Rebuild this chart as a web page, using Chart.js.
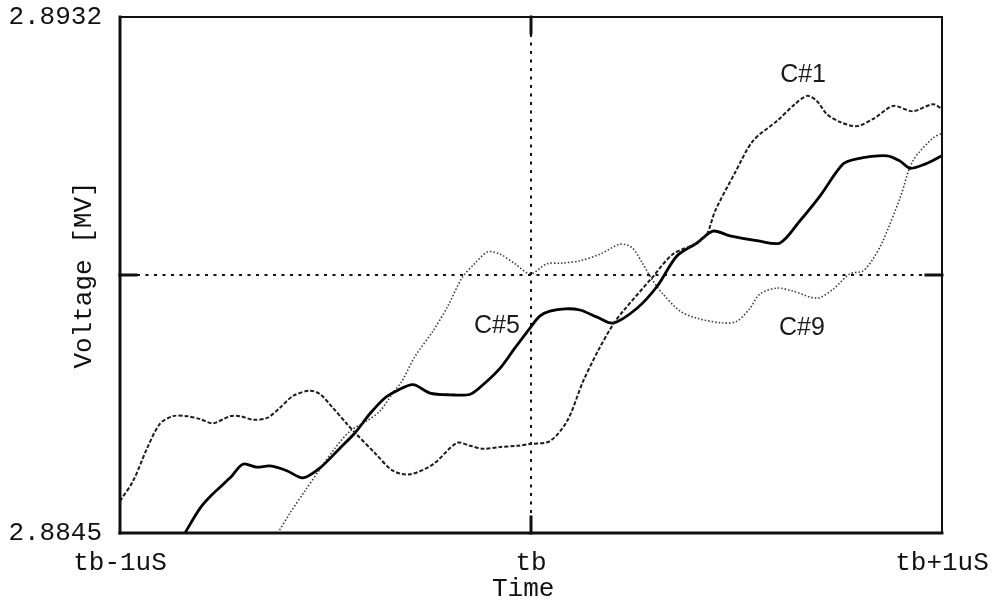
<!DOCTYPE html>
<html>
<head>
<meta charset="utf-8">
<script src="https://cdn.jsdelivr.net/npm/chart.js@4.4.1/dist/chart.umd.min.js"></script>
<style>
  html, body { margin: 0; padding: 0; background: #fff; }
  canvas { display: block; }
</style>
</head>
<body>
<canvas id="chart" width="1005" height="603"></canvas>
<script>
// Axis ticks (time in ns relative to tb, voltage in MV)
const xTickValues = [-1000, 0, 1000];
const xTickLabels = ['tb-1uS', 'tb', 'tb+1uS'];
const yTickValues = [2.8845, 2.8932];
const yTickLabels = ['2.8845', '2.8932'];

// Cavity C#1
const c1Time = [-1000, -968, -934, -903, -871, -837, -805, -774, -732, -708, -676, -642, -611, -579, -538, -513,
  -482, -448, -428, -380, -336, -294, -238, -180, -148, -117, -75, -34, -2, 46, 88, 127, 163, 200, 224, 294, 345,
  404, 428, 448, 496, 540, 599, 642, 672, 696, 720, 752, 793, 837, 881, 929, 978, 1000];
const c1Volt = [2.88504, 2.88538, 2.88593, 2.88634, 2.88647, 2.88647, 2.88642, 2.88635, 2.88647, 2.88647, 2.88641,
  2.88644, 2.88661, 2.88681, 2.88690, 2.88684, 2.88661, 2.88634, 2.88619, 2.88585, 2.88555, 2.88549, 2.88566,
  2.88602, 2.88597, 2.88592, 2.88595, 2.88597, 2.88600, 2.88605, 2.88639, 2.88706, 2.88757, 2.88802, 2.88824,
  2.88880, 2.88920, 2.88939, 2.88954, 2.88993, 2.89057, 2.89111, 2.89145, 2.89173, 2.89187, 2.89178, 2.89156,
  2.89143, 2.89136, 2.89150, 2.89170, 2.89161, 2.89173, 2.89165];

// Cavity C#5
const c5Time = [-842, -805, -774, -732, -701, -667, -635, -594, -555, -513, -465, -428, -392, -355, -326, -287,
  -246, -197, -148, -112, -75, -39, -2, 22, 46, 83, 119, 161, 200, 258, 307, 355, 404, 443, 484, 557, 606, 654,
  703, 759, 793, 866, 898, 922, 959, 1000];
const c5Volt = [2.88450, 2.88492, 2.88516, 2.88543, 2.88566, 2.88561, 2.88563, 2.88555, 2.88543, 2.88560, 2.88593,
  2.88619, 2.88651, 2.88678, 2.88690, 2.88700, 2.88686, 2.88683, 2.88684, 2.88703, 2.88728, 2.88762, 2.88796,
  2.88816, 2.88824, 2.88828, 2.88826, 2.88814, 2.88804, 2.88829, 2.88866, 2.88917, 2.88939, 2.88959, 2.88951,
  2.88942, 2.88939, 2.88976, 2.89018, 2.89072, 2.89081, 2.89086, 2.89077, 2.89065, 2.89072, 2.89086];

// Cavity C#9
const c9Time = [-616, -586, -550, -513, -477, -440, -399, -367, -336, -314, -282, -238, -202, -168, -136, -105,
  -75, -39, -2, 39, 75, 119, 168, 217, 246, 272, 294, 321, 363, 404, 467, 501, 533, 557, 599, 637, 696, 735, 776,
  808, 832, 856, 898, 929, 978, 1000];
const c9Volt = [2.88450, 2.88484, 2.88521, 2.88558, 2.88593, 2.88622, 2.88639, 2.88656, 2.88686, 2.88706, 2.88748,
  2.88791, 2.88833, 2.88880, 2.88905, 2.88924, 2.88920, 2.88904, 2.88887, 2.88904, 2.88905, 2.88909, 2.88920,
  2.88937, 2.88931, 2.88904, 2.88878, 2.88853, 2.88824, 2.88812, 2.88804, 2.88807, 2.88829, 2.88853, 2.88863,
  2.88858, 2.88846, 2.88861, 2.88887, 2.88892, 2.88912, 2.88942, 2.89015, 2.89077, 2.89116, 2.89124];

// Curve name tags, anchored in data units
const curveNames = ['C#1', 'C#5', 'C#9'];
const tagTime = [662, -83, 659];
const tagVolt = [2.89222, 2.88799, 2.88796];

const INK = '#111';
const MONO = '"Liberation Mono", "Courier New", monospace';

const toPoints = (t, v) => t.map((tt, i) => ({ x: tt, y: v[i] }));

// Dotted cross-hair through the centre of the plot plus the frame and its centre ticks
const framePlugin = {
  id: 'frame',
  beforeDatasetsDraw(chart) {
    const { ctx, chartArea: a, scales: { x, y } } = chart;
    const cx = x.getPixelForValue(0);
    const cy = y.getPixelForValue((y.min + y.max) / 2);
    ctx.save();
    ctx.strokeStyle = INK;
    ctx.lineWidth = 2;
    ctx.setLineDash([3, 5.5]);
    ctx.beginPath();
    ctx.moveTo(cx, a.top); ctx.lineTo(cx, a.bottom);
    ctx.moveTo(a.left, cy); ctx.lineTo(a.right, cy);
    ctx.stroke();
    ctx.restore();
  },
  afterDatasetsDraw(chart) {
    const { ctx, chartArea: a, scales: { x, y } } = chart;
    const cx = x.getPixelForValue(0);
    const cy = y.getPixelForValue((y.min + y.max) / 2);
    ctx.save();
    ctx.strokeStyle = INK;
    ctx.lineCap = 'square';
    const seg = (w, x1, y1, x2, y2) => {
      ctx.lineWidth = w;
      ctx.beginPath(); ctx.moveTo(x1, y1); ctx.lineTo(x2, y2); ctx.stroke();
    };
    seg(2, a.left, a.top, a.right, a.top);
    seg(2, a.right, a.top, a.right, a.bottom);
    seg(3, a.left, a.top, a.left, a.bottom);
    seg(3, a.left, a.bottom, a.right, a.bottom);
    seg(3, a.left, cy, a.left + 16, cy);
    seg(3, a.right - 16, cy, a.right, cy);
    seg(3, cx, a.top, cx, a.top + 16);
    seg(3, cx, a.bottom - 16, cx, a.bottom);
    ctx.restore();
  }
};

// Curve name tags
const tagPlugin = {
  id: 'tags',
  afterDatasetsDraw(chart) {
    const { ctx, scales: { x, y } } = chart;
    ctx.save();
    ctx.fillStyle = '#1a1a1a';
    ctx.font = '25px "Liberation Sans", Arial, sans-serif';
    ctx.textAlign = 'center';
    ctx.textBaseline = 'middle';
    curveNames.forEach((name, i) => {
      ctx.fillText(name, x.getPixelForValue(tagTime[i]), y.getPixelForValue(tagVolt[i]));
    });
    ctx.restore();
  }
};

new Chart(document.getElementById('chart'), {
  type: 'line',
  data: {
    datasets: [
      {
        label: curveNames[0],
        data: toPoints(c1Time, c1Volt),
        borderColor: '#1c1c1c',
        borderWidth: 2,
        borderDash: [4, 2],
        tension: 0.3
      },
      {
        label: curveNames[1],
        data: toPoints(c5Time, c5Volt),
        borderColor: '#000',
        borderWidth: 2.8,
        tension: 0.3
      },
      {
        label: curveNames[2],
        data: toPoints(c9Time, c9Volt),
        borderColor: '#3a3a3a',
        borderWidth: 1.6,
        borderDash: [1.5, 2],
        tension: 0.3
      }
    ]
  },
  options: {
    responsive: false,
    animation: false,
    devicePixelRatio: 1,
    layout: { padding: { top: 17, right: 63, left: 0, bottom: 0 } },
    elements: { point: { radius: 0, hoverRadius: 0 } },
    plugins: { legend: { display: false }, tooltip: { enabled: false } },
    scales: {
      x: {
        type: 'linear',
        min: -1000,
        max: 1000,
        afterBuildTicks: s => { s.ticks = xTickValues.map(v => ({ value: v })); },
        afterFit: s => { s.height = 70; s.paddingLeft = 0; s.paddingRight = 0; },
        grid: { display: false, drawTicks: false },
        border: { display: false },
        ticks: {
          padding: 15,
          maxRotation: 0,
          autoSkip: false,
          color: INK,
          font: { family: MONO, size: 26 },
          callback: v => xTickLabels[xTickValues.indexOf(v)]
        },
        title: {
          display: true,
          text: 'Time\u00a0',
          color: INK,
          padding: { top: 0, bottom: 1 },
          font: { family: MONO, size: 26, lineHeight: 1 }
        }
      },
      y: {
        type: 'linear',
        min: 2.8845,
        max: 2.8932,
        afterBuildTicks: s => { s.ticks = yTickValues.map(v => ({ value: v })); },
        afterFit: s => { s.width = 120; s.paddingTop = 0; s.paddingBottom = 0; },
        grid: { display: false, drawTicks: false },
        border: { display: false },
        ticks: {
          padding: 18,
          autoSkip: false,
          color: INK,
          font: { family: MONO, size: 26 },
          callback: v => yTickLabels[yTickValues.indexOf(v)]
        },
        title: {
          display: true,
          text: 'Voltage [MV]',
          color: INK,
          padding: { top: 69, bottom: 0 },
          font: { family: MONO, size: 26 }
        }
      }
    }
  },
  plugins: [framePlugin, tagPlugin]
});
</script>
</body>
</html>
